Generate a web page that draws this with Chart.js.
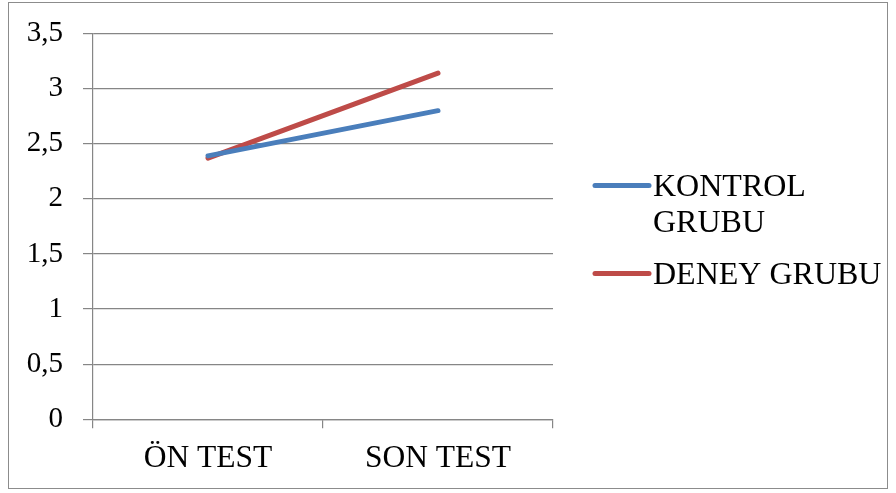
<!DOCTYPE html>
<html>
<head>
<meta charset="utf-8">
<script src="https://cdn.jsdelivr.net/npm/chart.js@4"></script>
<style>
  html, body { margin: 0; padding: 0; background: #ffffff; }
  #wrap { position: relative; width: 896px; height: 493px; }
</style>
</head>
<body>
<div id="wrap"><canvas id="c" width="896" height="493"></canvas></div>
<script>
// Test stages and group means
const categories = ['ÖN TEST', 'SON TEST'];
const kontrolValues = [2.39, 2.80];
const deneyValues = [2.37, 3.14];
const seriesNames = [['KONTROL', 'GRUBU'], ['DENEY GRUBU']];
const yTicks = [0, 0.5, 1, 1.5, 2, 2.5, 3, 3.5];

const FONT = "'Liberation Serif', 'Times New Roman', serif";
const AXIS_GREY = '#868686';

// Outer frame around the whole chart
const framePlugin = {
  id: 'frame',
  afterDraw(chart) {
    const ctx = chart.ctx;
    ctx.save();
    ctx.strokeStyle = '#8c8c8c';
    ctx.lineWidth = 1;
    ctx.strokeRect(8.5, 2.5, 879, 486);
    ctx.restore();
  }
};

// Legend on the right with wrapped series names
const sideLegend = {
  id: 'sideLegend',
  afterDraw(chart) {
    const ctx = chart.ctx;
    const rows = [196, 284];
    ctx.save();
    ctx.font = '32px ' + FONT;
    ctx.textBaseline = 'alphabetic';
    ctx.textAlign = 'left';
    chart.data.datasets.forEach((ds, i) => {
      const base = rows[i];
      const mid = base - 10.5;
      ctx.strokeStyle = ds.borderColor;
      ctx.lineWidth = 5;
      ctx.lineCap = 'round';
      ctx.beginPath();
      ctx.moveTo(595, mid);
      ctx.lineTo(649, mid);
      ctx.stroke();
      ctx.fillStyle = '#000000';
      const lines = Array.isArray(ds.label) ? ds.label : [ds.label];
      lines.forEach((t, j) => ctx.fillText(t, 653, base + j * 36));
    });
    ctx.restore();
  }
};

new Chart(document.getElementById('c'), {
  type: 'line',
  data: {
    labels: categories,
    datasets: [
      {
        label: seriesNames[0],
        data: kontrolValues,
        borderColor: '#4a7ebb',
        borderWidth: 5,
        borderCapStyle: 'round',
        pointRadius: 0,
        tension: 0
      },
      {
        label: seriesNames[1],
        data: deneyValues,
        borderColor: '#be4b48',
        borderWidth: 5,
        borderCapStyle: 'round',
        pointRadius: 0,
        tension: 0
      }
    ]
  },
  options: {
    responsive: false,
    animation: false,
    layout: { padding: { left: 0, right: 343, top: 33.5, bottom: 0 } },
    plugins: {
      legend: { display: false },
      tooltip: { enabled: false }
    },
    scales: {
      x: {
        offset: true,
        grid: {
          offset: true,
          drawOnChartArea: false,
          drawTicks: true,
          tickLength: 9,
          color: AXIS_GREY,
          lineWidth: 1.2
        },
        border: { display: true, color: AXIS_GREY, width: 1.2 },
        ticks: {
          color: '#000000',
          font: { family: FONT, size: 31.5 },
          padding: 12,
          maxRotation: 0
        },
        afterFit(scale) { scale.height = 73.7; }
      },
      y: {
        min: 0,
        max: 3.5,
        afterBuildTicks(scale) { scale.ticks = yTicks.map(v => ({ value: v })); },
        grid: {
          drawOnChartArea: true,
          drawTicks: true,
          tickLength: 10,
          color: AXIS_GREY,
          lineWidth: 1.2
        },
        border: { display: true, color: AXIS_GREY, width: 1.2 },
        ticks: {
          color: '#000000',
          font: { family: FONT, size: 29 },
          padding: 20,
          callback: v => String(v).replace('.', ',')
        },
        afterFit(scale) {
          scale.width = 93;
          scale.paddingTop = 0;
          scale.paddingBottom = 0;
        }
      }
    }
  },
  plugins: [framePlugin, sideLegend]
});
</script>
</body>
</html>
